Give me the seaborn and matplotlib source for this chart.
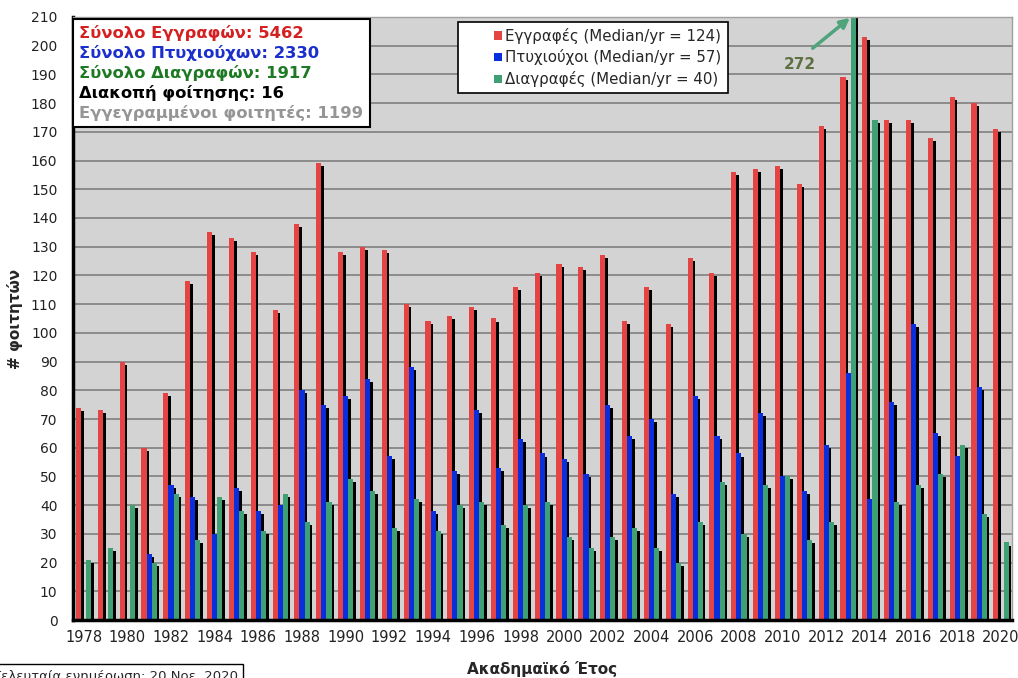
import numpy as np
import pandas as pd
import matplotlib
matplotlib.use("Agg")
import matplotlib.pyplot as plt
import matplotlib.patheffects as pe
from matplotlib.patches import Rectangle, Patch
from matplotlib.legend_handler import HandlerPatch
from matplotlib.offsetbox import TextArea, VPacker, AnchoredOffsetbox
import seaborn as sns

# --- data ---
years = list(range(1978, 2021))
enrolled = [74, 73, 90, 60, 79, 118, 135, 133, 128, 108, 138, 159, 128, 130, 129,
            110, 104, 106, 109, 105, 116, 121, 124, 123, 127, 104, 116, 103, 126,
            121, 156, 157, 158, 152, 172, 189, 203, 174, 174, 168, 182, 180, 171]
graduates = [0, 0, 0, 23, 47, 43, 30, 46, 38, 40, 80, 75, 78, 84, 57,
             88, 38, 52, 73, 53, 63, 58, 56, 51, 75, 64, 70, 44, 78,
             64, 58, 72, 50, 45, 61, 86, 42, 76, 103, 65, 57, 81, 0]
removed = [21, 25, 40, 20, 44, 28, 43, 38, 31, 44, 34, 41, 49, 45, 32,
           42, 31, 40, 41, 33, 40, 41, 29, 25, 29, 32, 25, 20, 34,
           48, 30, 47, 50, 28, 34, 272, 174, 41, 47, 51, 61, 37, 27]

series_names = ["Εγγραφές", "Πτυχιούχοι", "Διαγραφές"]
medians = [124, 57, 40]
COLORS = ["#E44444", "#0A2EDC", "#3FA173"]

summary_lines = ["Σύνολο Εγγραφών: 5462", "Σύνολο Πτυχιούχων: 2330",
                 "Σύνολο Διαγραφών: 1917", "Διακοπή φοίτησης: 16",
                 "Εγγεγραμμένοι φοιτητές: 1199"]
summary_colors = ["#D42020", "#1A2FCC", "#1D7A22", "black", "#959595"]
outlier_label = "272"
outlier_year = 2013

df = pd.DataFrame({"year": [str(y) for y in years] * 3,
                   "value": enrolled + graduates + removed,
                   "series": np.repeat(series_names, len(years))})

sns.set_theme(style="white")
plt.rcParams["font.family"] = ["DejaVu Sans"]

fig = plt.figure(figsize=(10.18, 6.78), dpi=100)
ax = fig.add_axes([0.0714, 0.0855, 0.9226, 0.8895])
ax.set_facecolor("#D3D3D3")

sns.barplot(data=df, x="year", y="value", hue="series", hue_order=series_names,
            palette=COLORS, width=0.7, dodge=True, saturation=1, legend=False,
            linewidth=0, ax=ax)

# black drop shadow behind every bar
for p in ax.patches:
    p.set_path_effects([pe.SimplePatchShadow(offset=(1.9, -2.2), shadow_rgbFace="black", alpha=1),
                        pe.Normal()])

ax.set_ylim(0, 210)
ax.set_xlim(-0.5, len(years) - 0.5)
ax.set_yticks(range(0, 211, 10))
ax.yaxis.grid(True, color="#7F7F7F", linewidth=1.2)
ax.set_axisbelow(True)

ax.set_xticks(range(0, len(years), 2))
ax.set_xticklabels([str(y) for y in years[::2]], fontsize=10.5)
ax.set_xticks(np.arange(-0.5, len(years), 1), minor=True)
ax.tick_params(axis="x", which="major", length=0, pad=7)
ax.tick_params(axis="x", which="minor", length=5, width=2.2, color="black", direction="out")
ax.tick_params(axis="y", length=5, width=2.5, color="black", direction="out", labelsize=10, pad=6)
ax.tick_params(colors="black", labelcolor="#222222")

for s in ["left", "bottom"]:
    ax.spines[s].set_color("black")
    ax.spines[s].set_linewidth(2.5)
for s in ["top", "right"]:
    ax.spines[s].set_color("#A0A0A0")
    ax.spines[s].set_linewidth(1)

ax.set_xlabel("Ακαδημαϊκό Έτος", fontsize=11, fontweight="bold", labelpad=12)
ax.set_ylabel("# φοιτητών", fontsize=11, fontweight="bold", labelpad=6)


# legend: small square sitting at the right end of a wide handle box
def square_right(legend, orig_handle, xdescent, ydescent, width, height, fontsize):
    s = 5.8
    return Rectangle((width - xdescent - s, (height - s) / 2 - ydescent), s, s)


handles = [Patch(facecolor=c, edgecolor="none") for c in COLORS]
labels = [f"{n} (Median/yr = {m})" for n, m in zip(series_names, medians)]
leg = ax.legend(handles, labels, loc="upper left", bbox_to_anchor=(0.4105, 0.992),
                fontsize=10.8, frameon=True, fancybox=False, framealpha=1,
                handlelength=2.5, handleheight=0.7, handletextpad=0.25,
                borderpad=0.4, labelspacing=0.38, borderaxespad=0,
                handler_map={Patch: HandlerPatch(patch_func=square_right)})
leg.get_frame().set_edgecolor("black")
leg.get_frame().set_linewidth(1.2)
leg.get_frame().set_facecolor("white")

# summary box top-left
areas = [TextArea(t, textprops=dict(color=c, fontsize=11.8, fontweight="bold"))
         for t, c in zip(summary_lines, summary_colors)]
box = AnchoredOffsetbox(loc="upper left", child=VPacker(children=areas, align="left", pad=0, sep=2.8),
                        pad=0.42, borderpad=0, frameon=True,
                        bbox_to_anchor=(0.0, 0.997), bbox_transform=ax.transAxes)
box.patch.set_edgecolor("black")
box.patch.set_linewidth(1.5)
ax.add_artist(box)

# off-scale annotation for the outlier
xi = years.index(outlier_year) + 0.233
ax.annotate("", xy=(xi - 0.05, 210.3), xytext=(xi - 1.95, 198.5), annotation_clip=False,
            arrowprops=dict(arrowstyle="-|>", color="#4FA47C", lw=2.5, mutation_scale=14))
ax.text(xi - 2.45, 193.5, outlier_label, color="#5E7040", fontsize=11, fontweight="bold",
        ha="center", va="center")

# last-update note, cut at figure edge as in the original
fig.text(-0.007, 0.012, "Τελευταία ενημέρωση: 20 Νοε. 2020", fontsize=9.5, va="top", ha="left",
         bbox=dict(facecolor="white", edgecolor="black", linewidth=1, pad=4))

fig.savefig("out.png", dpi=100)
